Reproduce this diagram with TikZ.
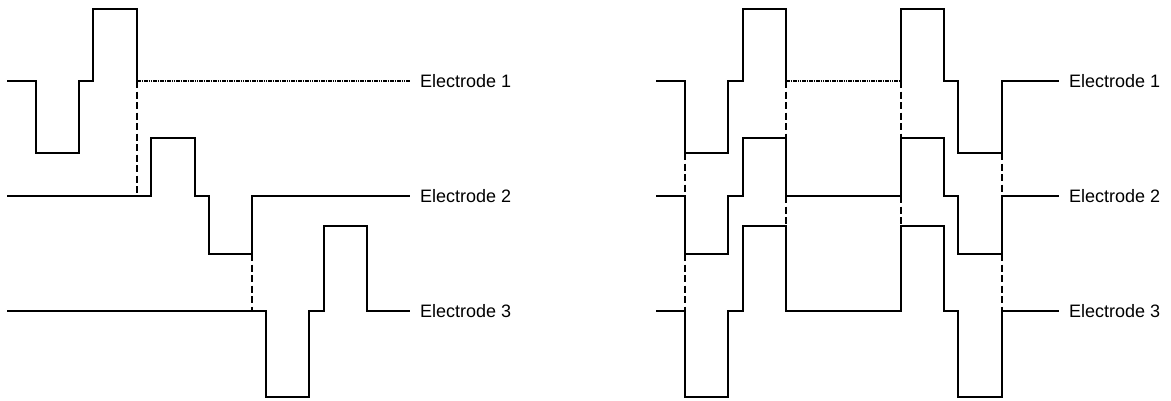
\documentclass[tikz,border=0pt]{standalone}
\usepackage{fontspec}
\setmainfont{Liberation Sans}
\begin{document}
\begin{tikzpicture}[x=1pt,y=-1pt,
  wave/.style={line width=1.1pt,line join=miter},
  sync/.style={line width=2.6pt,dash pattern=on 7pt off 3.5pt},
  hold/.style={line width=2.2pt,dash pattern=on 1.6pt off 0.7pt,black},
  lbl/.style={anchor=west,inner sep=0pt,font=\fontsize{18}{20}\selectfont}]
\useasboundingbox (0,0) rectangle (1171,400);
% labels
\node[lbl] (l1) at (420,81) {Electrode 1};
\node[lbl] (l2) at (420,196) {Electrode 2};
\node[lbl] (l3) at (420,311) {Electrode 3};
\node[lbl] (r1) at (1069,81) {Electrode 1};
\node[lbl] (r2) at (1069,196) {Electrode 2};
\node[lbl] (r3) at (1069,311) {Electrode 3};
% ---- left diagram ----
\draw[wave] (7,81) -- (36,81) -- (36,153) -- (79,153) -- (79,81) -- (93,81) -- (93,9) -- (137,9) -- (137,81);
\draw[hold] (137,81) -- ([xshift=-10pt]l1.west);
\draw[wave] (7,196) -- (151,196) -- (151,138) -- (195,138) -- (195,196) -- (209,196) -- (209,254) -- (252,254) -- (252,196) -- ([xshift=-10pt]l2.west);
\draw[wave] (7,311) -- (266,311) -- (266,397) -- (309,397) -- (309,311) -- (324,311) -- (324,226) -- (367,226) -- (367,311) -- ([xshift=-10pt]l3.west);
\draw[sync] (137,81) -- (137,196);
\draw[sync] (252,254) -- (252,311);
% ---- right diagram ----
\draw[wave] (656,81) -- (685,81) -- (685,153) -- (728,153) -- (728,81) -- (743,81) -- (743,9) -- (786,9) -- (786,81);
\draw[hold] (786,81) -- (901,81);
\draw[wave] (901,81) -- (901,9) -- (944,9) -- (944,81) -- (958,81) -- (958,153) -- (1002,153) -- (1002,81) -- ([xshift=-10pt]r1.west);
\draw[wave] (656,196) -- (685,196) -- (685,254) -- (728,254) -- (728,196) -- (743,196) -- (743,138) -- (786,138) -- (786,196) -- (901,196) -- (901,138) -- (944,138) -- (944,196) -- (958,196) -- (958,254) -- (1002,254) -- (1002,196) -- ([xshift=-10pt]r2.west);
\draw[wave] (656,311) -- (685,311) -- (685,397) -- (728,397) -- (728,311) -- (743,311) -- (743,226) -- (786,226) -- (786,311) -- (901,311) -- (901,226) -- (944,226) -- (944,311) -- (958,311) -- (958,397) -- (1002,397) -- (1002,311) -- ([xshift=-10pt]r3.west);
\foreach \x in {685,1002} {
  \draw[sync] (\x,153) -- (\x,196);
  \draw[sync] (\x,254) -- (\x,311);
}
\foreach \x in {786,901} {
  \draw[sync] (\x,81) -- (\x,138);
  \draw[sync] (\x,196) -- (\x,226);
}
\end{tikzpicture}
\end{document}
